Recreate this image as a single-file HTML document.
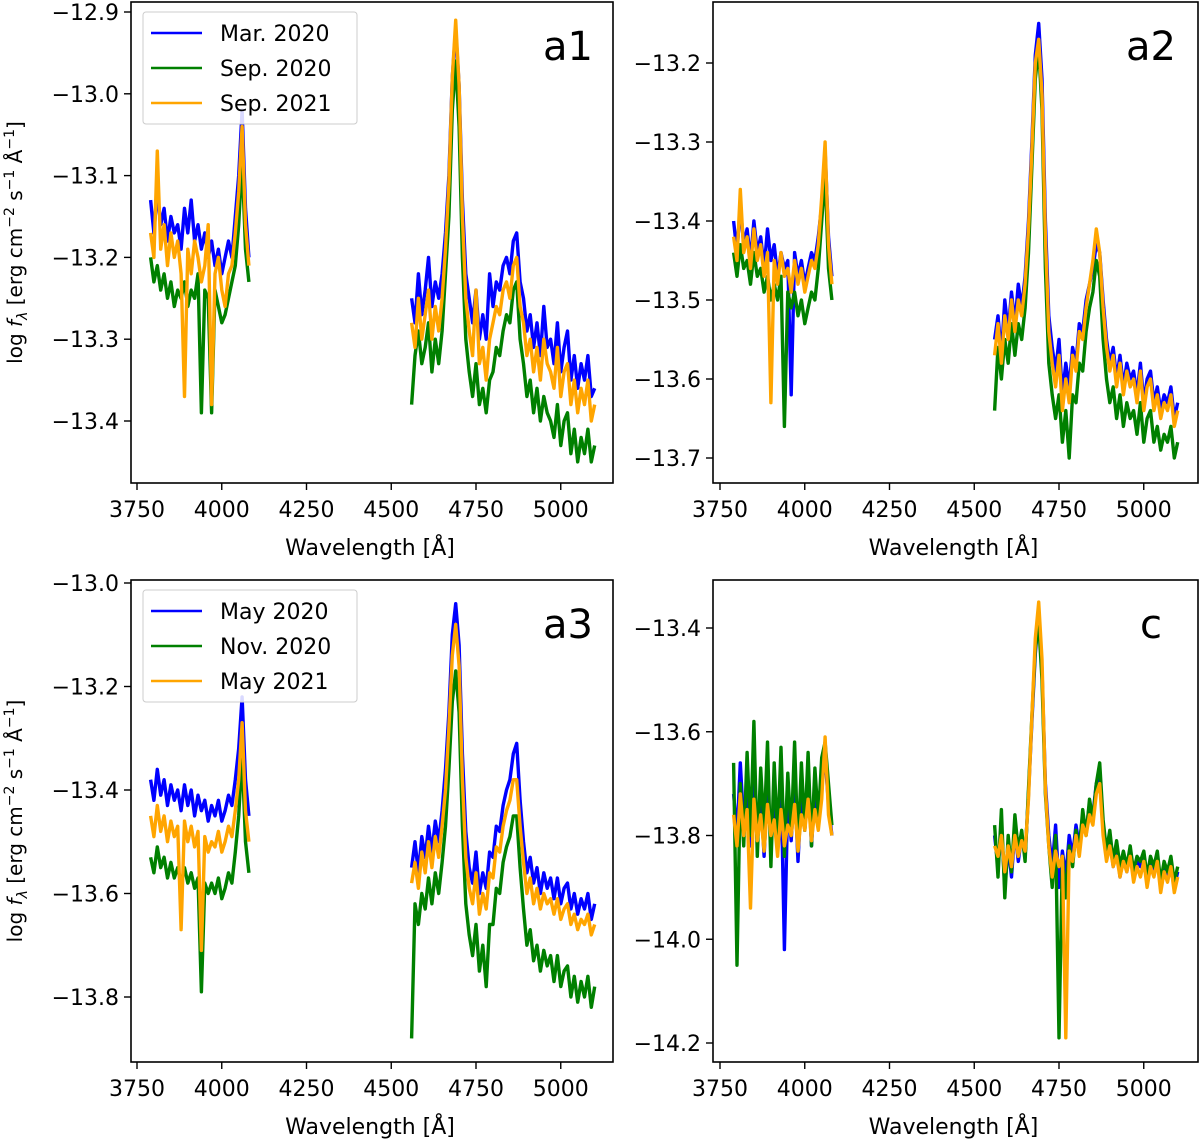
<!DOCTYPE html>
<html><head><meta charset="utf-8"><style>
body{margin:0;background:#fff}
svg{display:block;font-family:"DejaVu Sans","Liberation Sans",sans-serif}
</style></head><body>
<svg id="fig" width="1200" height="1140" viewBox="0 0 1200 1140" xmlns="http://www.w3.org/2000/svg"></svg>
<script>
const W1=[];for(let w=3790;w<=4080;w+=10)W1.push(w);
const W2=[];for(let w=4560;w<=5100;w+=10)W2.push(w);
const xTicks=[3750,4000,4250,4500,4750,5000];
const legendTop=["Mar. 2020","Sep. 2020","Sep. 2021"];
const legendBot=["May 2020","Nov. 2020","May 2021"];

const a1B1=[-13.13,-13.17,-13.12,-13.16,-13.14,-13.18,-13.15,-13.17,-13.16,-13.19,-13.14,-13.17,-13.13,-13.18,-13.16,-13.19,-13.17,-13.20,-13.18,-13.21,-13.19,-13.22,-13.20,-13.18,-13.20,-13.15,-13.10,-13.02,-13.14,-13.20];
const a1O1=[-13.17,-13.20,-13.07,-13.19,-13.16,-13.21,-13.17,-13.20,-13.18,-13.22,-13.37,-13.19,-13.22,-13.18,-13.20,-13.23,-13.21,-13.16,-13.38,-13.22,-13.20,-13.24,-13.26,-13.22,-13.21,-13.17,-13.12,-13.04,-13.16,-13.21];
const a1G1=[-13.20,-13.23,-13.21,-13.24,-13.22,-13.25,-13.23,-13.26,-13.24,-13.25,-13.23,-13.26,-13.24,-13.25,-13.22,-13.39,-13.24,-13.25,-13.39,-13.24,-13.26,-13.28,-13.27,-13.25,-13.23,-13.21,-13.16,-13.08,-13.19,-13.23];
const a1B2=[-13.25,-13.28,-13.22,-13.27,-13.24,-13.20,-13.26,-13.23,-13.25,-13.22,-13.17,-13.10,-12.98,-12.92,-12.99,-13.13,-13.22,-13.25,-13.28,-13.24,-13.30,-13.27,-13.30,-13.22,-13.26,-13.23,-13.24,-13.21,-13.20,-13.22,-13.18,-13.17,-13.23,-13.25,-13.29,-13.27,-13.31,-13.28,-13.32,-13.26,-13.31,-13.30,-13.33,-13.28,-13.34,-13.31,-13.29,-13.35,-13.32,-13.36,-13.33,-13.35,-13.32,-13.37,-13.36];
const a1O2=[-13.28,-13.31,-13.25,-13.30,-13.27,-13.24,-13.30,-13.26,-13.29,-13.25,-13.19,-13.11,-12.98,-12.91,-12.99,-13.15,-13.25,-13.29,-13.32,-13.24,-13.33,-13.31,-13.35,-13.30,-13.28,-13.26,-13.27,-13.24,-13.23,-13.25,-13.21,-13.20,-13.26,-13.28,-13.32,-13.30,-13.34,-13.31,-13.35,-13.30,-13.33,-13.34,-13.36,-13.31,-13.37,-13.34,-13.33,-13.38,-13.35,-13.39,-13.36,-13.38,-13.35,-13.40,-13.38];
const a1G2=[-13.38,-13.32,-13.29,-13.33,-13.31,-13.28,-13.34,-13.30,-13.33,-13.29,-13.22,-13.15,-13.02,-12.96,-13.04,-13.20,-13.30,-13.34,-13.37,-13.33,-13.38,-13.36,-13.39,-13.35,-13.34,-13.31,-13.32,-13.29,-13.27,-13.28,-13.24,-13.23,-13.30,-13.33,-13.37,-13.35,-13.39,-13.36,-13.40,-13.37,-13.39,-13.40,-13.42,-13.38,-13.43,-13.40,-13.39,-13.44,-13.41,-13.45,-13.42,-13.44,-13.41,-13.45,-13.43];

const a2B1=[-13.40,-13.44,-13.38,-13.43,-13.41,-13.45,-13.40,-13.44,-13.42,-13.46,-13.41,-13.45,-13.43,-13.47,-13.44,-13.46,-13.45,-13.62,-13.44,-13.47,-13.45,-13.48,-13.46,-13.44,-13.45,-13.42,-13.38,-13.31,-13.42,-13.47];
const a2O1=[-13.42,-13.45,-13.36,-13.44,-13.42,-13.46,-13.41,-13.45,-13.43,-13.47,-13.44,-13.63,-13.45,-13.48,-13.44,-13.47,-13.46,-13.49,-13.45,-13.48,-13.46,-13.49,-13.47,-13.45,-13.46,-13.43,-13.37,-13.30,-13.43,-13.48];
const a2G1=[-13.44,-13.47,-13.43,-13.46,-13.45,-13.48,-13.44,-13.47,-13.46,-13.49,-13.47,-13.50,-13.48,-13.50,-13.47,-13.66,-13.49,-13.51,-13.49,-13.52,-13.50,-13.53,-13.51,-13.49,-13.50,-13.46,-13.40,-13.34,-13.46,-13.50];
const a2B2=[-13.55,-13.52,-13.57,-13.50,-13.54,-13.49,-13.53,-13.48,-13.51,-13.47,-13.40,-13.30,-13.19,-13.15,-13.22,-13.40,-13.52,-13.56,-13.59,-13.55,-13.62,-13.58,-13.61,-13.56,-13.58,-13.53,-13.54,-13.50,-13.48,-13.46,-13.43,-13.44,-13.50,-13.55,-13.58,-13.56,-13.60,-13.57,-13.61,-13.58,-13.60,-13.59,-13.62,-13.58,-13.63,-13.60,-13.59,-13.63,-13.61,-13.64,-13.62,-13.63,-13.61,-13.65,-13.63];
const a2O2=[-13.57,-13.53,-13.58,-13.52,-13.55,-13.50,-13.54,-13.50,-13.52,-13.48,-13.41,-13.31,-13.20,-13.17,-13.24,-13.42,-13.54,-13.58,-13.61,-13.57,-13.64,-13.60,-13.63,-13.57,-13.59,-13.54,-13.55,-13.51,-13.48,-13.45,-13.41,-13.44,-13.51,-13.56,-13.59,-13.57,-13.61,-13.58,-13.62,-13.59,-13.61,-13.60,-13.63,-13.59,-13.64,-13.61,-13.60,-13.64,-13.62,-13.65,-13.63,-13.64,-13.62,-13.66,-13.64];
const a2G2=[-13.64,-13.56,-13.60,-13.55,-13.58,-13.53,-13.57,-13.53,-13.55,-13.51,-13.44,-13.33,-13.22,-13.18,-13.26,-13.46,-13.58,-13.62,-13.65,-13.62,-13.68,-13.64,-13.70,-13.62,-13.63,-13.58,-13.59,-13.54,-13.51,-13.49,-13.45,-13.47,-13.55,-13.60,-13.63,-13.61,-13.65,-13.62,-13.66,-13.63,-13.65,-13.64,-13.67,-13.63,-13.68,-13.65,-13.64,-13.68,-13.66,-13.69,-13.67,-13.68,-13.66,-13.70,-13.68];

const a3B1=[-13.38,-13.42,-13.36,-13.41,-13.38,-13.43,-13.39,-13.42,-13.40,-13.44,-13.39,-13.43,-13.40,-13.45,-13.41,-13.44,-13.42,-13.46,-13.43,-13.45,-13.42,-13.46,-13.44,-13.41,-13.43,-13.38,-13.32,-13.22,-13.38,-13.45];
const a3O1=[-13.45,-13.49,-13.43,-13.48,-13.45,-13.50,-13.46,-13.49,-13.47,-13.67,-13.46,-13.50,-13.47,-13.51,-13.48,-13.71,-13.49,-13.52,-13.50,-13.51,-13.48,-13.52,-13.50,-13.47,-13.49,-13.44,-13.38,-13.27,-13.44,-13.50];
const a3G1=[-13.53,-13.56,-13.51,-13.55,-13.53,-13.57,-13.54,-13.57,-13.55,-13.58,-13.55,-13.58,-13.56,-13.59,-13.57,-13.79,-13.58,-13.60,-13.58,-13.60,-13.57,-13.61,-13.59,-13.56,-13.58,-13.52,-13.45,-13.33,-13.50,-13.56];
const a3B2=[-13.55,-13.50,-13.56,-13.49,-13.53,-13.47,-13.52,-13.46,-13.50,-13.44,-13.36,-13.25,-13.10,-13.04,-13.12,-13.33,-13.48,-13.55,-13.58,-13.52,-13.60,-13.56,-13.59,-13.52,-13.53,-13.47,-13.48,-13.43,-13.40,-13.38,-13.33,-13.31,-13.42,-13.50,-13.56,-13.53,-13.58,-13.55,-13.60,-13.56,-13.59,-13.57,-13.61,-13.57,-13.62,-13.59,-13.58,-13.63,-13.60,-13.64,-13.61,-13.63,-13.60,-13.65,-13.62];
const a3O2=[-13.58,-13.54,-13.59,-13.52,-13.56,-13.50,-13.55,-13.49,-13.53,-13.47,-13.40,-13.28,-13.14,-13.08,-13.16,-13.38,-13.53,-13.59,-13.62,-13.56,-13.64,-13.60,-13.63,-13.56,-13.57,-13.51,-13.52,-13.47,-13.44,-13.42,-13.38,-13.38,-13.47,-13.54,-13.60,-13.57,-13.62,-13.59,-13.63,-13.60,-13.62,-13.61,-13.64,-13.61,-13.65,-13.63,-13.62,-13.66,-13.64,-13.67,-13.65,-13.66,-13.64,-13.68,-13.66];
const a3G2=[-13.88,-13.62,-13.66,-13.60,-13.63,-13.57,-13.62,-13.56,-13.60,-13.54,-13.47,-13.36,-13.23,-13.17,-13.25,-13.47,-13.62,-13.68,-13.72,-13.66,-13.75,-13.70,-13.78,-13.66,-13.66,-13.59,-13.60,-13.54,-13.51,-13.49,-13.45,-13.45,-13.55,-13.63,-13.70,-13.67,-13.73,-13.70,-13.75,-13.71,-13.74,-13.72,-13.77,-13.72,-13.78,-13.75,-13.74,-13.80,-13.76,-13.81,-13.77,-13.80,-13.76,-13.82,-13.78];

const cB1=[-13.72,-13.80,-13.66,-13.78,-13.70,-13.82,-13.68,-13.79,-13.72,-13.84,-13.70,-13.80,-13.74,-13.83,-13.69,-14.02,-13.73,-13.81,-13.70,-13.85,-13.72,-13.79,-13.68,-13.82,-13.71,-13.78,-13.70,-13.65,-13.74,-13.80];
const cG1=[-13.66,-14.05,-13.70,-13.82,-13.64,-13.80,-13.58,-13.84,-13.67,-13.79,-13.62,-13.86,-13.66,-13.81,-13.63,-13.84,-13.68,-13.80,-13.62,-13.83,-13.66,-13.79,-13.64,-13.82,-13.67,-13.77,-13.65,-13.62,-13.70,-13.78];
const cO1=[-13.76,-13.82,-13.72,-13.80,-13.75,-13.94,-13.73,-13.81,-13.76,-13.83,-13.74,-13.80,-13.77,-13.84,-13.75,-13.82,-13.78,-13.80,-13.74,-13.83,-13.76,-13.79,-13.73,-13.81,-13.75,-13.79,-13.73,-13.61,-13.76,-13.80];
const cB2=[-13.80,-13.86,-13.78,-13.90,-13.82,-13.88,-13.79,-13.85,-13.80,-13.84,-13.72,-13.58,-13.45,-13.37,-13.48,-13.70,-13.80,-13.86,-13.78,-13.90,-13.83,-13.88,-13.80,-13.84,-13.78,-13.82,-13.76,-13.79,-13.74,-13.76,-13.70,-13.68,-13.78,-13.84,-13.80,-13.86,-13.82,-13.88,-13.84,-13.87,-13.83,-13.88,-13.85,-13.86,-13.84,-13.89,-13.85,-13.87,-13.84,-13.90,-13.86,-13.88,-13.85,-13.90,-13.87];
const cG2=[-13.78,-13.88,-13.75,-13.92,-13.80,-13.87,-13.76,-13.83,-13.79,-13.85,-13.71,-13.57,-13.44,-13.39,-13.50,-13.72,-13.82,-13.90,-13.80,-14.19,-13.84,-13.92,-13.82,-13.86,-13.79,-13.83,-13.75,-13.80,-13.73,-13.77,-13.70,-13.66,-13.77,-13.83,-13.79,-13.85,-13.81,-13.86,-13.83,-13.86,-13.82,-13.87,-13.84,-13.85,-13.83,-13.88,-13.84,-13.86,-13.83,-13.89,-13.85,-13.87,-13.84,-13.89,-13.86];
const cO2=[-13.82,-13.84,-13.80,-13.87,-13.82,-13.86,-13.80,-13.84,-13.81,-13.83,-13.73,-13.57,-13.42,-13.35,-13.46,-13.71,-13.82,-13.88,-13.83,-13.86,-13.84,-14.19,-13.83,-13.85,-13.80,-13.84,-13.78,-13.80,-13.76,-13.78,-13.72,-13.70,-13.80,-13.85,-13.82,-13.86,-13.84,-13.88,-13.85,-13.87,-13.84,-13.89,-13.86,-13.88,-13.85,-13.90,-13.86,-13.88,-13.85,-13.91,-13.87,-13.89,-13.86,-13.91,-13.88];

const a1Ticks=[-12.9,-13.0,-13.1,-13.2,-13.3,-13.4];
const a2Ticks=[-13.2,-13.3,-13.4,-13.5,-13.6,-13.7];
const a3Ticks=[-13.0,-13.2,-13.4,-13.6,-13.8];
const cTicks=[-13.4,-13.6,-13.8,-14.0,-14.2];

const NS="http://www.w3.org/2000/svg";
const svg=document.getElementById('fig');
function mk(tag,attrs,parent,text){const e=document.createElementNS(NS,tag);for(const k in attrs)e.setAttribute(k,attrs[k]);if(text!==undefined)e.textContent=text;(parent||svg).appendChild(e);return e;}
const fmt=v=>(v<0?"\u2212":"")+Math.abs(v).toFixed(1);
const COL={b:"#0000ff",g:"#008000",o:"#ffa500"};

function panel(cfg){
  const g=mk('g',{});
  
  
  const xs=l=>cfg.x3750+(l-3750)*0.3390;
  const ys=v=>cfg.yA+(v-cfg.vA)*(cfg.yB-cfg.yA)/(cfg.vB-cfg.vA);
  const series=[["b",cfg.B1,cfg.B2],["g",cfg.G1,cfg.G2],["o",cfg.O1,cfg.O2]];
  series.forEach(([c,s1,s2],i)=>{
    [[W1,s1],[W2,s2]].forEach(([W,S],j)=>{
      const d=W.map((w,k)=>(k?"L":"M")+xs(w).toFixed(1)+","+ys(S[k]).toFixed(1)).join("");
      const p=mk('path',{d:d,fill:"none",stroke:COL[c],"stroke-width":3.4,"stroke-linejoin":"round"},g);
      
      
    });
  });
  const r=mk('rect',{x:cfg.x0,y:cfg.y0,width:cfg.x1-cfg.x0,height:cfg.y1-cfg.y0,fill:"none",stroke:"#000","stroke-width":1.6},g);
  
  
  xTicks.forEach(t=>{
    const x=xs(t);
    mk('line',{x1:x,x2:x,y1:cfg.y1,y2:cfg.y1+7,stroke:"#000","stroke-width":1.4},g);
    const tx=mk('text',{x:x,y:cfg.y1+34,"text-anchor":"middle","font-size":22,fill:"#000"},g,String(t));
    
    
  });
  cfg.ticks.forEach(t=>{
    const y=ys(t);
    mk('line',{x1:cfg.x0-7,x2:cfg.x0,y1:y,y2:y,stroke:"#000","stroke-width":1.4},g);
    const tx=mk('text',{x:cfg.x0-12,y:y+8,"text-anchor":"end","font-size":22,fill:"#000"},g,fmt(t));
    
    
  });
  const xl=mk('text',{x:(cfg.x0+cfg.x1)/2-2,y:cfg.y1+72,"text-anchor":"middle","font-size":22,fill:"#000"},g,"Wavelength [Å]");
  
  
  const pl=mk('text',{x:cfg.x1-cfg.lblOff,y:cfg.y0+58,"text-anchor":"end","font-size":40,fill:"#000"},g,cfg.label);
  
  
  if(cfg.legend){
    const lg=mk('g',{},g);
    
    
    const ly=cfg.y0+10;
    mk('rect',{x:143,y:ly,width:214,height:112,rx:3,fill:"#fff","fill-opacity":0.85,stroke:"#ccc","stroke-width":1},lg);
    ["b","g","o"].forEach((c,i)=>{
      const yy=ly+21+i*35;
      mk('line',{x1:151,x2:202,y1:yy,y2:yy,stroke:COL[c],"stroke-width":2.6},lg);
      const t=mk('text',{x:220,y:yy+8,"font-size":22,fill:"#000"},lg,cfg.legend[i]);
      
      
    });
  }
  if(cfg.ylab){
    const cy=(cfg.y0+cfg.y1)/2;
    const t=mk('text',{x:0,y:0,"text-anchor":"middle","font-size":20,fill:"#000",transform:`translate(22,${cy}) rotate(-90)`},g);
    
    
    t.innerHTML='log <tspan font-style="italic">f</tspan><tspan font-size="14" dy="5" font-style="italic">λ</tspan><tspan dy="-5"> [erg cm</tspan><tspan font-size="14" dy="-8">−2</tspan><tspan dy="8"> s</tspan><tspan font-size="14" dy="-8">−1</tspan><tspan dy="8"> Å</tspan><tspan font-size="14" dy="-8">−1</tspan><tspan dy="8">]</tspan>';
  }
}
panel({name:"panel-a1",label:"a1",lblOff:20,x0:131,x1:613,y0:2,y1:483,x3750:137,yA:12,vA:-12.9,yB:421,vB:-13.4,ticks:a1Ticks,legend:legendTop,ylab:true,B1:a1B1,G1:a1G1,O1:a1O1,B2:a1B2,G2:a1G2,O2:a1O2});
panel({name:"panel-a2",label:"a2",lblOff:22,x0:713,x1:1198,y0:2,y1:483,x3750:720,yA:63,vA:-13.2,yB:458,vB:-13.7,ticks:a2Ticks,legend:null,ylab:false,B1:a2B1,G1:a2G1,O1:a2O1,B2:a2B2,G2:a2G2,O2:a2O2});
panel({name:"panel-a3",label:"a3",lblOff:20,x0:131,x1:613,y0:580,y1:1062,x3750:137,yA:583,vA:-13.0,yB:997,vB:-13.8,ticks:a3Ticks,legend:legendBot,ylab:true,B1:a3B1,G1:a3G1,O1:a3O1,B2:a3B2,G2:a3G2,O2:a3O2});
panel({name:"panel-c",label:"c",lblOff:36,x0:713,x1:1198,y0:580,y1:1062,x3750:720,yA:628,vA:-13.4,yB:1043,vB:-14.2,ticks:cTicks,legend:null,ylab:false,B1:cB1,G1:cG1,O1:cO1,B2:cB2,G2:cG2,O2:cO2});
</script>
</body></html>
